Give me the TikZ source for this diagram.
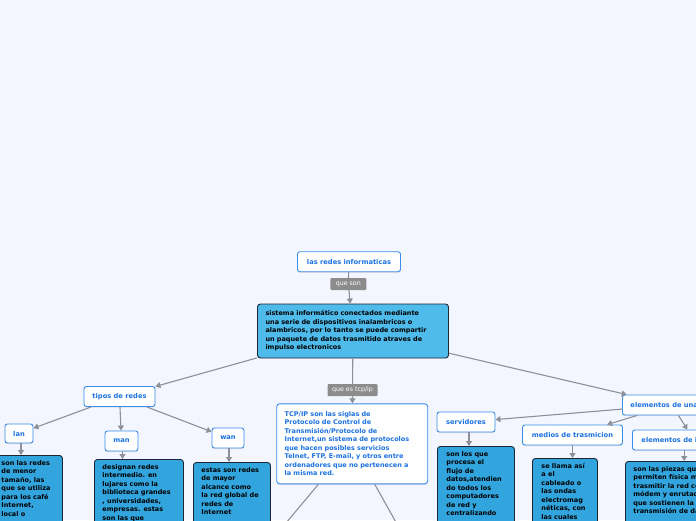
\documentclass[tikz,border=0pt]{standalone}
\usepackage{fontspec}
\setmainfont{DejaVu Sans}
\usetikzlibrary{arrows.meta,shadows}
\definecolor{bg}{HTML}{F3F6FE}
\definecolor{topicborder}{HTML}{3A8DE8}
\definecolor{topictext}{HTML}{1C72E0}
\definecolor{mainblue}{HTML}{4FBBEB}
\definecolor{descblue}{HTML}{32A5DF}
\definecolor{darkborder}{HTML}{1D2733}
\definecolor{lblgray}{HTML}{8C8C8C}
\definecolor{conngray}{HTML}{8C9099}
\newcommand{\dtext}[2]{\parbox[t][95pt][t]{#1}{\strut #2}}
\tikzset{
  topic/.style={draw=topicborder, fill=white, rounded corners=2.5pt, line width=0.9pt,
    text=topictext, font=\fontsize{6.7}{8}\selectfont\bfseries, inner xsep=8pt, inner ysep=0pt,
    minimum height=20pt, drop shadow={shadow xshift=0pt, shadow yshift=-1.2pt, opacity=0.18}},
  lbl/.style={fill=lblgray, text=white, font=\fontsize{6.3}{7}\selectfont, inner sep=0pt,
    minimum height=12pt, rounded corners=1pt},
  mainbox/.style={draw=darkborder, fill=mainblue, rounded corners=3pt, line width=0.9pt,
    font=\fontsize{6.5}{8.5}\selectfont\bfseries, align=left, inner xsep=8pt, inner ysep=0pt},
  tcpbox/.style={draw=topicborder, fill=white, rounded corners=3pt, line width=0.9pt, text=topictext,
    font=\fontsize{6.5}{8.5}\selectfont\bfseries, align=left, inner xsep=8pt, inner ysep=0pt,
    drop shadow={shadow xshift=0pt, shadow yshift=-1.2pt, opacity=0.18}},
  descbox/.style={draw=darkborder, fill=descblue, rounded corners=3pt, line width=0.9pt,
    font=\fontsize{6.5}{8.5}\selectfont\bfseries, anchor=north west, inner ysep=3.6pt},
  link/.style={draw=conngray, line width=1.1pt},
  conn/.style={link, -{Triangle[width=6pt,length=5pt]}},
}
\begin{document}
\begin{tikzpicture}[x=1pt,y=-1pt]
\useasboundingbox (0,0) rectangle (696,520);
\fill[bg] (0,0) rectangle (696,520);
\clip (0,0) rectangle (696,520);

% nodes
\node[topic, minimum width=103pt] (top) at (349,261.7) {las redes informaticas};
\node[lbl, minimum width=36pt] (l1) at (348.3,284) {que son};
\node[mainbox, text width=175pt, minimum height=54pt] (main) at (353,331)
 {sistema informático conectados mediante\\ una serie de dispositivos inalambricos o\\ alambricos, por lo tanto se puede compartir\\ un paquete de datos trasmitido atraves de\\ impulso electronicos};
\node[lbl, minimum width=50pt] (l2) at (352.5,390) {que es tcp/ip};
\node[tcpbox, text width=135pt, minimum height=80pt] (tcp) at (352.2,443.8)
 {TCP/IP son las siglas de\\ Protocolo de Control de\\ Transmisión/Protocolo de\\ Internet,un sistema de protocolos\\ que hacen posibles servicios\\ Telnet, FTP, E-mail, y otros entre\\ ordenadores que no pertenecen a\\ la misma red.};
\coordinate (tcpL) at (255,560);
\coordinate (tcpR) at (417,560);

\node[topic, minimum width=71pt, inner xsep=0pt] (tipos) at (119.5,396.5) {tipos de redes};
\node[topic, minimum width=28pt, inner xsep=0pt, minimum height=19pt] (lan) at (19,433.5) {lan};
\node[topic, minimum width=33pt, inner xsep=0pt] (man) at (121.5,441) {man};
\node[topic, minimum width=32pt, inner xsep=0pt] (wan) at (228,438) {wan};

\node[descbox, inner xsep=9pt] (landesc) at (-8,455) {\dtext{52pt}{son las redes\\ de menor\\ tamaño, las\\ que se utiliza\\ para los café\\ Internet,\\ local o}};
\node[descbox, inner xsep=8pt] (mandesc) at (94,459) {\dtext{73pt}{designan redes\\ intermedio. en\\ lujares como la\\ biblioteca grandes\\ , universidades,\\ empresas. estas\\ son las que}};
\node[descbox, inner xsep=8pt] (wandesc) at (193,462) {\dtext{61pt}{estas son redes\\ de mayor\\ alcance como\\ la red global de\\ redes de\\ Internet}};

\node[topic, anchor=west] (elem) at (622,405) {elementos de una red};
\node[topic, minimum width=58pt, inner xsep=0pt] (serv) at (466,422) {servidores};
\node[topic, minimum width=100pt, inner xsep=0pt] (medios) at (572.5,435) {medios de trasmicion};
\node[topic, anchor=west, inner xsep=9pt] (elem2) at (632,440) {elementos de interconexión};

\node[descbox, inner xsep=9pt] (servdesc) at (437,446) {\dtext{59pt}{son los que\\ procesa el\\ flujo de\\ datos,atendien\\ do todos los\\ computadores\\ de red y\\ centralizando}};
\node[descbox, inner xsep=9pt] (mediosdesc) at (532,458) {\dtext{47pt}{se llama así\\ a el\\ cableado o\\ las ondas\\ electromag\\ néticas, con\\ las cuales}};
\node[descbox, inner xsep=8pt] (elemdesc) at (625,461) {\dtext{100pt}{son las piezas que\\ permiten física mente\\ trasmitir la red como\\ módem y enrutadores\\ que sostienen la\\ transmisión de datos}};

% connectors
\draw[link] (top) -- (l1);
\draw[conn] (l1) -- (main);
\draw[link] (main) -- (l2);
\draw[conn] (l2) -- (tcp);
\draw[link] (tcp) -- (tcpL);
\draw[link] (tcp) -- (tcpR);
\draw[conn] (main) -- (tipos);
\draw[conn] (main) -- (elem);
\draw[conn] (tipos) -- (lan);
\draw[conn] (tipos) -- (man);
\draw[conn] (tipos) -- (wan);
\draw[conn] ([xshift=2pt]lan.south) -- ([xshift=2pt]lan.south |- landesc.north);
\draw[conn] ([xshift=1pt]man.south) -- ([xshift=1pt]man.south |- mandesc.north);
\draw[conn] ([xshift=1pt]wan.south) -- ([xshift=1pt]wan.south |- wandesc.north);
\draw[conn] (elem) -- (serv);
\draw[conn] (elem) -- (medios);
\draw[conn] (elem) -- (elem2);
\draw[conn] ([xshift=3pt]serv.south) -- ([xshift=3pt]serv.south |- servdesc.north);
\draw[conn] (medios.south) -- (medios.south |- mediosdesc.north);
\draw[conn] ([xshift=-10pt]elem2.south) -- ([xshift=-10pt]elem2.south |- elemdesc.north);
\end{tikzpicture}
\end{document}
